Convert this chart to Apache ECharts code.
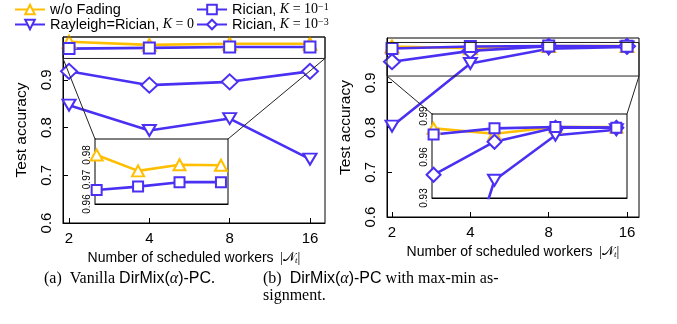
<!DOCTYPE html>
<html><head><meta charset="utf-8">
<script src="https://cdn.jsdelivr.net/npm/echarts@6/dist/echarts.min.js"></script>
<style>html,body{margin:0;padding:0;background:#fff}#c{width:677px;height:324px}</style>
</head><body><div id="c"></div>
<script>
// ---------- data ----------
const workers = [2, 4, 8, 16];
const xTickExp = [1, 2, 3, 4];             // log2 of worker counts (tick positions)
const NAME_NF = 'w/o Fading';
const NAME_K0 = 'Rayleigh=Rician, K=0';
const NAME_K1 = 'Rician, K=1e-1';
const NAME_K3 = 'Rician, K=1e-3';

// panel (a) Vanilla DirMix(alpha)-PC
const aNoFading = [0.980, 0.9735, 0.976, 0.9758];
const aRicianK1 = [0.9657, 0.9671, 0.9689, 0.9689];
const aRicianK3 = [0.918, 0.889, 0.896, 0.918];
const aRayleigh = [0.847, 0.794, 0.819, 0.734];

// panel (b) DirMix(alpha)-PC with max-min assignment
const bNoFading = [0.981, 0.977, 0.982, 0.982];
const bRicianK1 = [0.9765, 0.981, 0.982, 0.9815];
const bRicianK3 = [0.947, 0.9712, 0.9814, 0.9814];
const bRayleigh = [0.803, 0.943, 0.976, 0.980];

const yTicksMain = [0.6, 0.7, 0.8, 0.9];
const yTicksInsetA = [0.96, 0.97, 0.98];
const yTicksInsetB = [0.93, 0.96, 0.99];
const zoomBandA = [0.945, 0.99];
const zoomBandB = [0.915, 0.99];

// ---------- style ----------
const YELLOW = '#ffbf00', BLUE = '#4a30f2';
const SANS = 'Liberation Sans', SERIF = 'Liberation Serif';
const DOWN_TRI = 'path://M0,0L10,0L5,8.66Z';

// axis ranges (log2 space for x)
const axA = {x: [0.925, 4.187], y: [0.6, 0.99]};
const axAi = {x: [0.96, 4.17], y: [0.96, 0.9865]};
const axB = {x: [0.936, 4.153], y: [0.6, 1.0]};
const axBi = {x: [0.974, 4.175], y: [0.93, 0.9915]};

const toXY = vals => workers.map((w, i) => [Math.log2(w), vals[i]]);

function ser(name, vals, idx, kind, inset) {
  const cfg = {
    nf: {sym: 'triangle', col: YELLOW, size: inset ? [12, 11] : [13, 12]},
    k1: {sym: 'rect', col: BLUE, size: inset ? 10 : 11},
    k3: {sym: 'diamond', col: BLUE, size: inset ? [14, 14] : [16, 15]},
    k0: {sym: DOWN_TRI, col: BLUE, size: inset ? [13, 11] : [13, 11]}
  }[kind];
  return {
    type: 'line', name, xAxisIndex: idx, yAxisIndex: idx,
    data: toXY(vals), symbol: cfg.sym, symbolSize: cfg.size, showAllSymbol: true,
    lineStyle: {color: cfg.col, width: 2.6},
    itemStyle: {color: '#fff', borderColor: cfg.col, borderWidth: 2},
    z: inset ? 10 : 3, animation: false, clip: true
  };
}

function xAxis(idx, rng, main) {
  return {
    type: 'value', gridIndex: idx, min: rng[0], max: rng[1],
    axisLine: {show: true, onZero: false, lineStyle: {color: '#000', width: 1}},
    axisTick: {show: true, inside: true, length: main ? 5 : 4, customValues: xTickExp, lineStyle: {color: '#000'}},
    axisLabel: {show: main, customValues: xTickExp, margin: 8, fontFamily: SANS, fontSize: 15, color: '#000',
      formatter: v => String(Math.round(Math.pow(2, v)))},
    splitLine: {show: false},
    name: main ? '{s|Number of scheduled workers }{m|\u2009|}{n|\uD835\uDCA9}{sub|t}{m||}' : '',
    nameLocation: 'middle', nameGap: 22,
    nameTextStyle: {rich: {
      s: {fontFamily: SANS, fontSize: 14, color: '#000'},
      m: {fontFamily: SERIF, fontSize: 14, color: '#000'},
      n: {fontFamily: 'DejaVu Sans', fontSize: 13, color: '#000'},
      sub: {fontFamily: SERIF, fontStyle: 'italic', fontSize: 9, color: '#000', verticalAlign: 'bottom'}
    }}
  };
}

function yAxis(idx, rng, ticks, main, dec) {
  return {
    type: 'value', gridIndex: idx, min: rng[0], max: rng[1],
    axisLine: {show: true, onZero: false, lineStyle: {color: '#000', width: 1}},
    axisTick: {show: true, inside: true, length: main ? 5 : 4, customValues: ticks, lineStyle: {color: '#000'}},
    axisLabel: {show: true, customValues: ticks, rotate: 90, margin: main ? 9 : 3,
      fontFamily: SANS, fontSize: main ? 15 : 10, color: '#000',
      formatter: v => v.toFixed(dec)},
    splitLine: {show: false},
    name: main ? 'Test accuracy' : '', nameLocation: 'middle', nameGap: 33,
    nameTextStyle: {fontFamily: SANS, fontSize: 15.5, color: '#000'}
  };
}

const richLegend = {
  s: {fontFamily: SANS, fontSize: 14.5, color: '#000', lineHeight: 15},
  k: {fontFamily: SERIF, fontStyle: 'italic', fontSize: 14, color: '#000', lineHeight: 15},
  m: {fontFamily: SERIF, fontSize: 14, color: '#000', lineHeight: 15},
  sup: {fontFamily: SERIF, fontSize: 10, color: '#000', verticalAlign: 'top', lineHeight: 9}
};
const legendText = {};
legendText[NAME_NF] = '{s|w/o Fading}';
legendText[NAME_K0] = '{s|Rayleigh=Rician,}{k| K}{m| = 0}';
legendText[NAME_K1] = '{s|Rician,}{k| K}{m| = 10}{sup|\u22121}';
legendText[NAME_K3] = '{s|Rician,}{k| K}{m| = 10}{sup|\u22123}';

function legend(left, names) {
  return {
    left, top: 2, orient: 'vertical', itemWidth: 30, itemHeight: 12, itemGap: 0,
    padding: 0,
    data: names, formatter: n => legendText[n], selectedMode: false,
    textStyle: {rich: richLegend, lineHeight: 15}
  };
}

const gridBase = {show: true, borderColor: '#000', borderWidth: 1, backgroundColor: '#fff', containLabel: false, outerBoundsMode: 'none'};

const option = {
  animation: false,
  backgroundColor: '#fff',
  legend: [legend(14, [NAME_NF, NAME_K0]), legend(196, [NAME_K1, NAME_K3])],
  grid: [
    Object.assign({left: 63, top: 37, width: 262, height: 186}, gridBase),
    Object.assign({left: 95, top: 139, width: 133, height: 65, z: 5}, gridBase),
    Object.assign({left: 387, top: 38, width: 252, height: 179}, gridBase),
    Object.assign({left: 432, top: 114, width: 195, height: 84, z: 5}, gridBase)
  ],
  xAxis: [xAxis(0, axA.x, true), xAxis(1, axAi.x, false), xAxis(2, axB.x, true), xAxis(3, axBi.x, false)],
  yAxis: [yAxis(0, axA.y, yTicksMain, true, 1), yAxis(1, axAi.y, yTicksInsetA, false, 2),
          yAxis(2, axB.y, yTicksMain, true, 1), yAxis(3, axBi.y, yTicksInsetB, false, 2)],
  series: [
    ser(NAME_NF, aNoFading, 0, 'nf'), ser(NAME_K3, aRicianK3, 0, 'k3'),
    ser(NAME_K0, aRayleigh, 0, 'k0'), ser(NAME_K1, aRicianK1, 0, 'k1'),
    ser(NAME_NF, aNoFading, 1, 'nf', true), ser(NAME_K1, aRicianK1, 1, 'k1', true),
    ser(NAME_NF, bNoFading, 2, 'nf'), ser(NAME_K3, bRicianK3, 2, 'k3'),
    ser(NAME_K0, bRayleigh, 2, 'k0'), ser(NAME_K1, bRicianK1, 2, 'k1'),
    ser(NAME_NF, bNoFading, 3, 'nf', true), ser(NAME_K3, bRicianK3, 3, 'k3', true),
    ser(NAME_K0, bRayleigh, 3, 'k0', true), ser(NAME_K1, bRicianK1, 3, 'k1', true)
  ]
};

const chart = echarts.init(document.getElementById('c'), null, {renderer: 'canvas'});
chart.setOption(option);

// zoom boxes and connector lines computed from the axes
function px(i, pt) { return chart.convertToPixel({xAxisIndex: i, yAxisIndex: i}, pt); }
function zoomGraphics(mainIdx, insetIdx, mainAx, insetAx, band) {
  const tl = px(mainIdx, [mainAx.x[0], band[1]]);
  const br = px(mainIdx, [mainAx.x[1], band[0]]);
  const itl = px(insetIdx, [insetAx.x[0], insetAx.y[1]]);
  const itr = px(insetIdx, [insetAx.x[1], insetAx.y[1]]);
  const ls = {stroke: '#222', lineWidth: 1};
  return [
    {type: 'rect', shape: {x: tl[0], y: tl[1], width: br[0] - tl[0], height: br[1] - tl[1]}, style: {fill: null, stroke: '#222', lineWidth: 1}, z: 20},
    {type: 'line', shape: {x1: tl[0], y1: br[1], x2: itl[0], y2: itl[1]}, style: ls, z: 20},
    {type: 'line', shape: {x1: br[0], y1: br[1], x2: itr[0], y2: itr[1]}, style: ls, z: 20}
  ];
}
const capRich = {
  t: {fontFamily: SERIF, fontSize: 16, color: '#000'},
  s: {fontFamily: SANS, fontSize: 16, color: '#000'},
  g: {fontFamily: SERIF, fontStyle: 'italic', fontSize: 16, color: '#000'}
};
chart.setOption({
  graphic: [
    ...zoomGraphics(0, 1, axA, axAi, zoomBandA),
    ...zoomGraphics(2, 3, axB, axBi, zoomBandB),
    {type: 'text', left: 44, top: 271, style: {text: '{t|(a)  Vanilla }{s|DirMix(}{g|\u03B1}{s|)-PC}{t|.}', rich: capRich}},
    {type: 'text', left: 263, top: 271, style: {text: '{t|(b)  }{s|DirMix(}{g|\u03B1}{s|)-PC}{t| with max-min as-}', rich: capRich}},
    {type: 'text', left: 263, top: 288, style: {text: '{t|signment.}', rich: capRich}}
  ]
});
</script>
</body></html>
